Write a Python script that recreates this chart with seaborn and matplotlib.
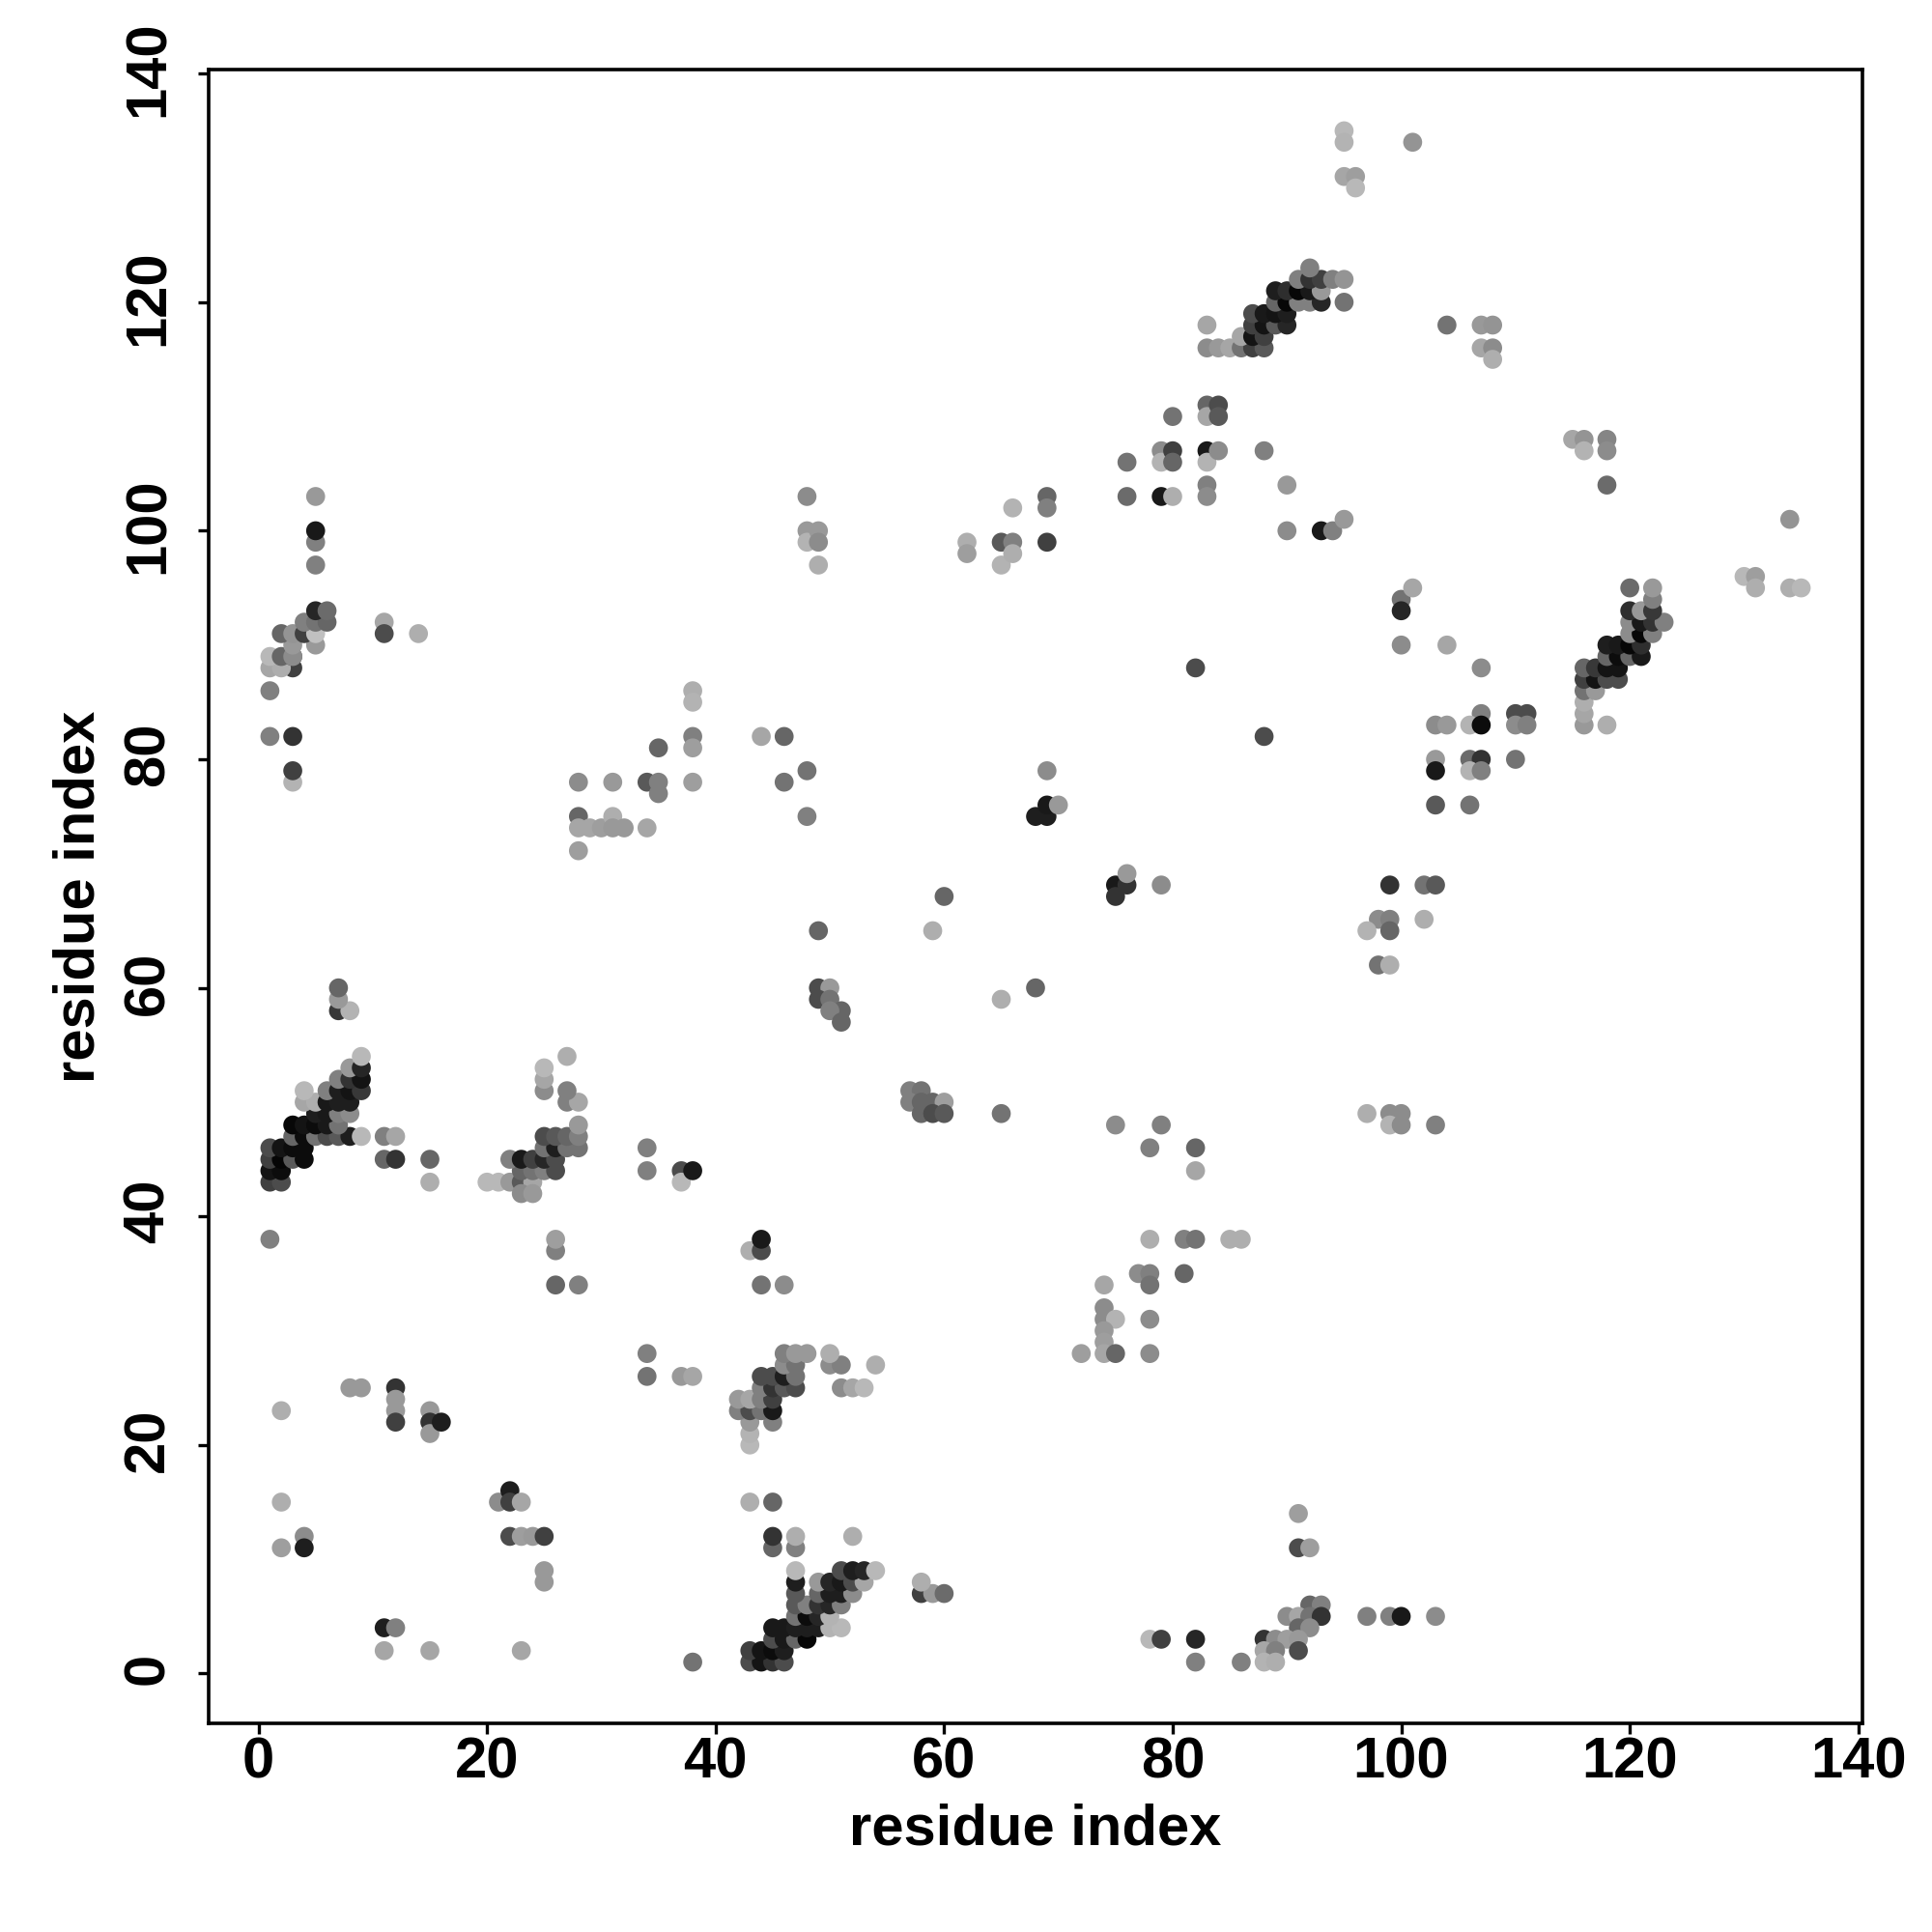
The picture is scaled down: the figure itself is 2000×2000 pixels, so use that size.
import pandas as pd
import matplotlib
matplotlib.use("Agg")
import matplotlib.pyplot as plt
from matplotlib.transforms import ScaledTranslation
import seaborn as sns

# contact clusters: residue x, residue y, grey level (0 black, 1 white)
low_left_x = [1, 2, 2, 2, 4, 4, 11, 12, 11, 15, 23, 38, 8, 9, 12, 12, 12, 12, 15, 15, 15, 16, 21, 22, 22, 23, 22, 23, 24, 25, 25, 25]
low_left_y = [38, 23, 15, 11, 12, 11, 4, 4, 2, 2, 2, 1, 25, 25, 25, 24, 23, 22, 23, 22, 21, 22, 15, 16, 15, 15, 12, 12, 12, 12, 9, 8]
low_left_grey = [.5, .68, .68, .62, .55, .12, .12, .5, .65, .65, .65, .45, .6, .6, .2, .6, .6, .25, .6, .2, .6, .12, .55, .12, .25, .65, .3, .62, .6, .25, .6, .6]

strand_a_x = [1, 2, 1, 2, 1, 2, 3, 4, 1, 2, 3, 4, 3, 4, 5, 6, 7, 8, 9, 3, 4, 5, 6, 7, 5, 6, 7, 8, 4, 5, 6, 7, 8, 4, 6, 7, 8, 9, 7, 8, 9, 8, 9, 9, 7, 8, 7, 7]
strand_a_y = [43, 43, 44, 44, 45, 45, 45, 45, 46, 46, 46, 46, 47, 47, 47, 47, 47, 47, 47, 48, 48, 48, 48, 48, 49, 49, 49, 49, 50, 50, 50, 50, 50, 51, 51, 51, 51, 51, 52, 52, 52, 53, 53, 54, 58, 58, 59, 60]
strand_a_grey = [.25, .3, .08, .05, .25, .02, .35, .05, .3, .08, .05, .05, .4, .05, .45, .3, .35, .12, .72, .03, .08, .05, .1, .45, .12, .1, .5, .55, .65, .68, .1, .12, .12, .72, .5, .12, .08, .22, .5, .2, .08, .6, .15, .72, .22, .7, .6, .4]

strand_b_x = [20, 21, 22, 23, 24, 23, 24, 23, 24, 25, 26, 22, 23, 24, 25, 26, 25, 26, 27, 28, 25, 26, 27, 28, 28, 27, 28, 25, 27, 25, 25, 27]
strand_b_y = [43, 43, 43, 43, 43, 42, 42, 44, 44, 44, 44, 45, 45, 45, 45, 45, 46, 46, 46, 46, 47, 47, 47, 47, 48, 50, 50, 51, 51, 52, 53, 54]
strand_b_grey = [.72, .72, .6, .35, .65, .55, .6, .4, .45, .5, .3, .5, .1, .25, .15, .3, .45, .12, .45, .45, .3, .35, .4, .5, .6, .5, .65, .55, .5, .65, .72, .68]

mid_left_x = [11, 12, 11, 12, 15, 15, 34, 34, 34, 37, 37, 38, 34, 37, 38, 26, 26, 26, 28, 43, 44, 44, 44, 46]
mid_left_y = [47, 47, 45, 45, 45, 43, 46, 44, 28, 44, 43, 44, 26, 26, 26, 34, 37, 38, 34, 37, 37, 38, 34, 34]
mid_left_grey = [.5, .65, .4, .2, .4, .68, .5, .5, .5, .3, .72, .1, .45, .6, .65, .4, .5, .62, .5, .68, .3, .1, .45, .55]

strand_c_x = [43, 43, 43, 45, 42, 43, 44, 45, 42, 43, 44, 45, 44, 45, 46, 47, 44, 45, 46, 47, 46, 47, 50, 51, 46, 47, 48, 50, 51, 52, 53, 54]
strand_c_y = [20, 21, 22, 22, 23, 23, 23, 23, 24, 24, 24, 24, 25, 25, 25, 25, 26, 26, 26, 26, 27, 27, 27, 27, 28, 28, 28, 28, 25, 25, 25, 27]
strand_c_grey = [.72, .7, .6, .5, .5, .3, .45, .1, .6, .65, .5, .25, .5, .2, .35, .3, .3, .3, .12, .45, .55, .45, .55, .5, .5, .6, .6, .68, .55, .65, .72, .68]

strand_d_x = [43, 44, 45, 46, 43, 44, 45, 46, 45, 46, 47, 48, 45, 46, 47, 48, 49, 50, 51, 47, 48, 49, 50, 47, 48, 49, 50, 51, 47, 49, 50, 51, 52, 47, 49, 50, 51, 52, 53, 47, 51, 52, 53, 54, 45, 47, 45, 47, 52, 43, 45, 58, 59, 60, 58]
strand_d_y = [1, 1, 1, 1, 2, 2, 2, 2, 3, 3, 3, 3, 4, 4, 4, 4, 4, 4, 4, 5, 5, 5, 5, 6, 6, 6, 6, 6, 7, 7, 7, 7, 7, 8, 8, 8, 8, 8, 8, 9, 9, 9, 9, 9, 11, 11, 12, 12, 12, 15, 15, 7, 7, 7, 8]
strand_d_grey = [.3, .08, .2, .3, .25, .08, .05, .12, .3, .1, .4, .03, .1, .1, .12, .12, .12, .7, .72, .45, .05, .15, .7, .35, .5, .2, .15, .5, .35, .4, .12, .12, .55, .12, .6, .15, .1, .3, .65, .72, .3, .12, .15, .72, .4, .5, .2, .68, .68, .68, .4, .25, .6, .42, .68]

strand_e_x = [83, 84, 85, 86, 87, 88, 86, 87, 88, 83, 87, 88, 89, 90, 87, 88, 89, 90, 89, 90, 91, 92, 93, 95, 89, 90, 91, 92, 93, 91, 92, 93, 94, 95, 92]
strand_e_y = [116, 116, 116, 116, 116, 116, 117, 117, 117, 118, 118, 118, 118, 118, 119, 119, 119, 119, 120, 120, 120, 120, 120, 120, 121, 121, 121, 121, 121, 122, 122, 122, 122, 122, 123]
strand_e_grey = [.55, .6, .65, .45, .25, .35, .65, .08, .25, .65, .25, .08, .35, .15, .3, .1, .08, .12, .4, .03, .5, .5, .15, .45, .12, .18, .03, .1, .6, .5, .2, .25, .5, .58, .5]

strand_f_x = [116, 118, 116, 116, 116, 117, 116, 117, 118, 119, 116, 117, 118, 119, 118, 119, 120, 121, 118, 119, 120, 121, 120, 121, 122, 120, 121, 122, 123, 120, 121, 122, 122, 120, 122]
strand_f_y = [83, 83, 84, 85, 86, 86, 87, 87, 87, 87, 88, 88, 88, 88, 89, 89, 89, 89, 90, 90, 90, 90, 91, 91, 91, 92, 92, 92, 92, 93, 93, 93, 94, 95, 95]
strand_f_grey = [.6, .68, .65, .68, .45, .6, .25, .08, .3, .3, .4, .22, .08, .08, .4, .05, .4, .1, .12, .1, .03, .18, .55, .03, .5, .55, .1, .2, .5, .18, .6, .22, .5, .42, .6]

top_left_x = [3, 3, 3, 1, 3, 1, 1, 2, 3, 1, 2, 3, 3, 5, 2, 3, 4, 5, 4, 5, 6, 11, 5, 6, 11, 14, 5, 5, 5, 5]
top_left_y = [78, 79, 82, 82, 88, 86, 88, 88, 89, 89, 89, 89, 90, 90, 91, 91, 91, 91, 92, 92, 92, 92, 93, 93, 91, 91, 97, 99, 100, 103]
top_left_grey = [.7, .25, .2, .5, .25, .5, .65, .68, .25, .72, .4, .55, .6, .6, .4, .58, .25, .75, .5, .45, .4, .65, .15, .42, .3, .68, .5, .5, .1, .6]

upper_mid_x = [28, 28, 28, 28, 29, 30, 31, 31, 31, 32, 34, 34, 35, 35, 35, 38, 38, 38, 38, 38, 44, 46, 46, 48, 48, 48, 48, 48, 49, 49, 49, 49, 49, 50, 49, 50, 51, 50, 51, 57, 58, 57, 58, 59, 60, 58, 59, 60, 65, 59, 60, 65, 68, 68, 69, 69, 70, 69, 75, 76, 75, 76, 79, 62, 62, 65, 65, 66, 66, 66, 69, 69, 69]
upper_mid_y = [78, 75, 74, 72, 74, 74, 75, 74, 78, 74, 74, 78, 78, 77, 81, 86, 85, 82, 81, 78, 82, 82, 78, 79, 75, 103, 100, 99, 100, 99, 97, 65, 60, 60, 59, 59, 58, 58, 57, 51, 51, 50, 50, 50, 50, 49, 49, 49, 49, 65, 68, 59, 60, 75, 75, 76, 76, 79, 69, 69, 68, 70, 69, 99, 98, 99, 97, 102, 99, 98, 103, 102, 99]
upper_mid_grey = [.55, .4, .65, .62, .65, .62, .68, .6, .6, .6, .65, .35, .5, .5, .4, .68, .7, .5, .62, .62, .65, .4, .45, .45, .5, .55, .6, .7, .6, .55, .68, .4, .3, .6, .3, .45, .4, .5, .4, .5, .45, .5, .4, .4, .62, .4, .3, .35, .45, .68, .4, .68, .4, .12, .12, .1, .6, .55, .1, .2, .2, .6, .55, .68, .62, .35, .7, .7, .5, .68, .4, .5, .25]

upper_right_x = [76, 76, 79, 80, 79, 79, 80, 80, 80, 83, 83, 83, 83, 83, 83, 84, 84, 84, 88, 90, 90, 93, 94, 95, 95, 95, 95, 96, 96, 101, 104, 107, 108, 107, 108, 108, 115, 116, 118, 116, 118, 118, 130, 131, 131, 134, 134, 135]
upper_right_y = [106, 103, 103, 103, 107, 106, 107, 106, 110, 111, 110, 107, 106, 104, 103, 111, 110, 107, 107, 104, 100, 100, 100, 101, 135, 134, 131, 131, 130, 134, 118, 118, 118, 116, 116, 115, 108, 108, 108, 107, 107, 104, 96, 96, 95, 101, 95, 95]
upper_right_grey = [.45, .42, .1, .68, .55, .7, .25, .4, .45, .4, .65, .1, .7, .5, .55, .3, .35, .55, .5, .6, .55, .1, .5, .6, .72, .7, .65, .62, .72, .58, .45, .6, .58, .65, .55, .68, .65, .58, .52, .7, .55, .42, .72, .62, .68, .58, .68, .72]

right_mid_x = [100, 100, 100, 101, 104, 107, 82, 88, 107, 110, 111, 103, 104, 106, 107, 110, 111, 103, 106, 107, 110, 103, 106, 107, 103, 106, 99, 102, 103, 98, 99, 102, 97, 99, 98, 99, 97, 99, 100, 99, 100, 103]
right_mid_y = [94, 93, 90, 95, 90, 88, 88, 82, 84, 84, 84, 83, 83, 83, 83, 83, 83, 80, 80, 80, 80, 79, 79, 79, 76, 76, 69, 69, 69, 66, 66, 66, 65, 65, 62, 62, 49, 49, 49, 48, 48, 48]
right_mid_grey = [.45, .15, .55, .65, .65, .55, .3, .3, .5, .3, .3, .55, .6, .7, .05, .55, .5, .6, .42, .2, .45, .1, .7, .5, .35, .45, .2, .45, .35, .55, .5, .68, .7, .4, .45, .68, .68, .55, .55, .7, .55, .5]

lower_right_x = [75, 79, 78, 82, 82, 78, 81, 82, 85, 86, 77, 78, 81, 74, 78, 74, 74, 75, 78, 74, 74, 72, 74, 75, 78, 91, 91, 92, 92, 93, 90, 91, 92, 93, 97, 99, 100, 103, 91, 92, 78, 79, 82, 88, 89, 90, 91, 88, 89, 91, 82, 86, 88, 89]
lower_right_y = [48, 48, 46, 46, 44, 38, 38, 38, 38, 38, 35, 35, 35, 34, 34, 32, 31, 31, 31, 30, 29, 28, 28, 28, 28, 14, 11, 11, 6, 6, 5, 5, 5, 5, 5, 5, 5, 5, 4, 4, 3, 3, 3, 3, 3, 3, 3, 2, 2, 2, 1, 1, 1, 1]
lower_right_grey = [.55, .5, .5, .4, .65, .68, .5, .45, .68, .68, .55, .5, .4, .65, .45, .55, .55, .7, .55, .6, .62, .62, .65, .4, .55, .62, .3, .62, .4, .5, .55, .65, .45, .2, .5, .5, .1, .55, .4, .55, .72, .25, .15, .2, .55, .62, .6, .65, .5, .3, .5, .5, .7, .68]

tick_vals = [0, 20, 40, 60, 80, 100, 120, 140]

clusters = [
    (low_left_x, low_left_y, low_left_grey),
    (strand_a_x, strand_a_y, strand_a_grey),
    (strand_b_x, strand_b_y, strand_b_grey),
    (mid_left_x, mid_left_y, mid_left_grey),
    (strand_c_x, strand_c_y, strand_c_grey),
    (strand_d_x, strand_d_y, strand_d_grey),
    (strand_e_x, strand_e_y, strand_e_grey),
    (strand_f_x, strand_f_y, strand_f_grey),
    (top_left_x, top_left_y, top_left_grey),
    (upper_mid_x, upper_mid_y, upper_mid_grey),
    (upper_right_x, upper_right_y, upper_right_grey),
    (right_mid_x, right_mid_y, right_mid_grey),
    (lower_right_x, lower_right_y, lower_right_grey),
]
df = pd.concat([pd.DataFrame({"x": c[0], "y": c[1], "grey": c[2]}) for c in clusters], ignore_index=True)

sns.set_style("white")
plt.rcParams["font.family"] = ["Liberation Sans", "DejaVu Sans"]
plt.rcParams["font.weight"] = "bold"

fig = plt.figure(figsize=(10, 10), dpi=200)
ax = fig.add_axes([216 / 2000, 1 - 1784 / 2000, 1712 / 2000, 1712 / 2000])

sns.scatterplot(data=df, x="x", y="y", hue="grey", palette="gray", hue_norm=(0, 1),
                s=50, linewidth=0, legend=False, ax=ax)

ax.set_xlim(-4.36, 140.36)
ax.set_ylim(-4.36, 140.36)
ax.set_xticks(tick_vals)
ax.set_yticks(tick_vals)
ax.set_xticklabels(tick_vals, fontsize=21.5, fontweight="bold", color="black")
ax.set_yticklabels(tick_vals, fontsize=21.5, fontweight="bold", color="black", rotation=90, va="center")
ax.tick_params(axis="x", direction="out", length=4, width=1.2, color="black", pad=1, bottom=True)
ax.tick_params(axis="y", direction="out", length=4, width=1.2, color="black", pad=8.5, left=True)
ax.set_xlabel("residue index", fontsize=21.5, fontweight="bold", color="black", labelpad=5)
ax.set_ylabel("residue index", fontsize=21.5, fontweight="bold", color="black", labelpad=6)
for s in ax.spines.values():
    s.set_visible(True)
    s.set_color("black")
    s.set_linewidth(1.3)

# y tick labels sit a little above their ticks in the original
nudge = ScaledTranslation(0, 5 / 200, fig.dpi_scale_trans)
for lab in ax.get_yticklabels():
    lab.set_transform(lab.get_transform() + nudge)

fig.savefig("out.png", dpi=200, facecolor="white")
